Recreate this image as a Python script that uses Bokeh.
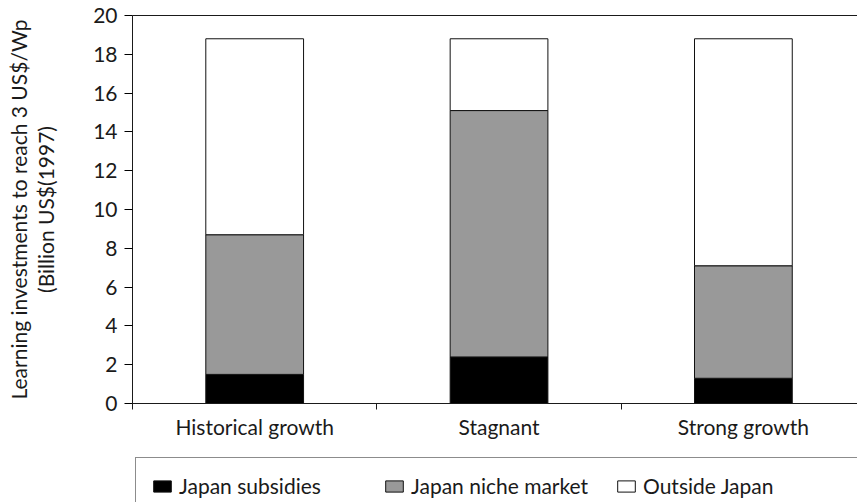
from bokeh.plotting import figure
from bokeh.layouts import column
from bokeh.models import (ColumnDataSource, FixedTicker, LinearAxis, Legend,
                          LegendItem, Range1d)
from bokeh.embed import file_html
from bokeh.resources import INLINE

# ---- data ----
categories = ["Historical growth", "Stagnant", "Strong growth"]
series_names = ["Japan subsidies", "Japan niche market", "Outside Japan"]
japan_subsidies = [1.5, 2.4, 1.3]
japan_niche_market = [7.2, 12.7, 5.8]
outside_japan = [10.1, 3.7, 11.7]
y_ticks = [0, 2, 4, 6, 8, 10, 12, 14, 16, 18, 20]
y_label = "Learning investments to reach 3 US$/Wp\n(Billion US$(1997)"

FONT = "Lato"
FS = "21px"
INK = "#1a1a1a"
fills = ["#000000", "#999999", "#ffffff"]
stack_cols = ["s0", "s1", "s2"]

centers = [i + 0.5 for i in range(len(categories))]
source = ColumnDataSource(dict(x=centers, s0=japan_subsidies,
                               s1=japan_niche_market, s2=outside_japan))

# ---------------- main chart ----------------
p = figure(width=857, height=452, output_backend="svg", toolbar_location=None,
           x_range=Range1d(0, 2.967), y_range=Range1d(0, 20),
           min_border_left=132, min_border_right=0, min_border_top=15,
           min_border_bottom=49)
p.outline_line_color = None
p.grid.visible = False
p.background_fill_color = "white"
p.border_fill_color = "white"

p.vbar_stack(stack_cols, x="x", width=0.4, source=source,
             fill_color=fills, line_color="#111111", line_width=1)

# y axis
ya = p.yaxis[0]
ya.ticker = FixedTicker(ticks=y_ticks, minor_ticks=[])
ya.major_tick_out = 8
ya.major_tick_in = 0
ya.major_label_standoff = 7
ya.major_label_text_font = FONT
ya.major_label_text_font_size = FS
ya.major_label_text_color = INK
ya.axis_label = y_label
ya.axis_label_text_font = FONT
ya.axis_label_text_font_size = FS
ya.axis_label_text_font_style = "normal"
ya.axis_label_text_color = INK
ya.axis_label_text_line_height = 1.1
ya.axis_label_standoff = 32
ya.axis_line_color = INK

# x axis: labels at category centers, ticks at category boundaries
xa = p.xaxis[0]
xa.ticker = FixedTicker(ticks=centers,
                        minor_ticks=[float(i) for i in range(len(categories) + 1)])
xa.major_label_overrides = {c: lab for c, lab in zip(centers, categories)}
xa.major_tick_line_color = None
xa.major_tick_out = 0
xa.major_tick_in = 0
xa.minor_tick_out = 6
xa.minor_tick_in = 0
xa.minor_tick_line_color = INK
xa.major_label_standoff = 4
xa.major_label_text_font = FONT
xa.major_label_text_font_size = FS
xa.major_label_text_color = INK
xa.axis_line_color = INK

# top border line
top = LinearAxis(ticker=FixedTicker(ticks=[]), major_label_text_font_size="0px",
                 major_tick_out=0, major_tick_in=0, minor_tick_out=0,
                 major_label_standoff=0, axis_line_color=INK)
p.add_layout(top, "above")

# ---------------- legend strip ----------------
q = figure(width=857, height=50, output_backend="svg", toolbar_location=None,
           x_range=Range1d(0, 2.967), y_range=Range1d(0, 20),
           x_axis_location=None, y_axis_location=None,
           min_border_left=0, min_border_right=0, min_border_top=0,
           min_border_bottom=0)
q.outline_line_color = None
q.grid.visible = False
q.background_fill_color = "white"
q.border_fill_color = "white"
legend_renderers = q.vbar_stack(stack_cols, x="x", width=0.4, source=source,
                                fill_color=fills, line_color="#111111",
                                line_width=1)
for r in legend_renderers:
    r.visible = False

legend = Legend(items=[LegendItem(label=n, renderers=[r])
                       for n, r in zip(series_names, legend_renderers)],
                orientation="horizontal", location=(3, -12),
                padding=15, spacing=0, label_width=204, label_standoff=6,
                glyph_width=22, glyph_height=14,
                label_text_font=FONT, label_text_font_size=FS,
                label_text_color=INK,
                inactive_fill_alpha=0.0,
                border_line_color=INK, border_line_width=1,
                background_fill_alpha=1.0, margin=0)
q.add_layout(legend, "center")

layout = column(p, q, spacing=0)
open("out.html", "w").write(file_html(layout, INLINE))
